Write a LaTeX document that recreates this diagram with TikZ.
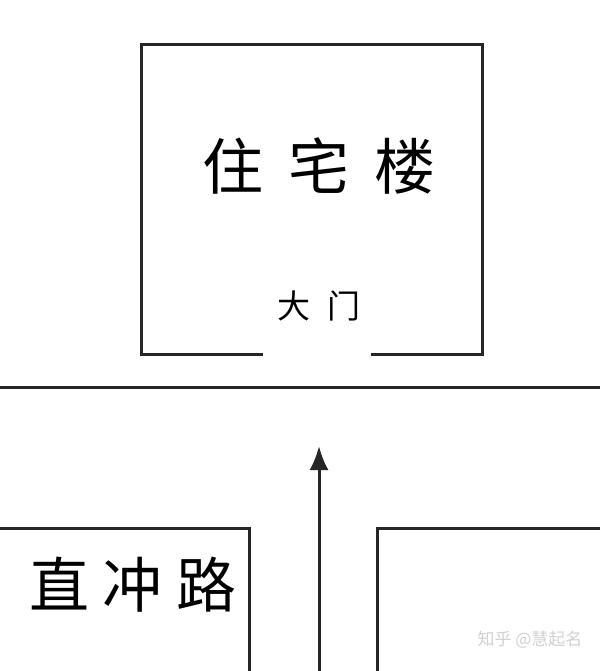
\documentclass[tikz,border=0pt]{standalone}
\usepackage{fontspec}
\newfontfamily\cjk{Noto Sans CJK SC}
\usepackage{tikz}
\usetikzlibrary{arrows.meta}
\usetikzlibrary{positioning}

\begin{document}
\begin{tikzpicture}[x=1pt,y=-1pt,line width=3pt,wall/.style={draw=black!85},
    cjktext/.style={inner sep=0pt,font=\cjk},sigtext/.style={inner sep=0pt,font=\cjk\fontsize{17}{17}\selectfont,text=black!18}]
      \useasboundingbox (0,0) rectangle (600,671);
      % building with its door gap
      \coordinate (dl) at (263,354);
      \coordinate (dr) at (371,354);
      \draw[wall] (dl) -- (141,354) -- (141,45) -- (482,45) -- (482,354) -- (dr);
      \node[cjktext,font=\cjk\fontsize{61}{61}\selectfont] (house) at (319,166) {住\hspace{25pt}宅\hspace{25pt}楼};
      \node[cjktext,font=\cjk\fontsize{33}{33}\selectfont] (door) at (319,306) {大\hspace{17pt}门};
      % road
      \draw[wall] (0,387) -- (600,387);
      \draw[wall] (0,528) -- (249,528) -- (249,671);
      \draw[wall] (600,528) -- (377,528) -- (377,671);
      \node[cjktext,font=\cjk\fontsize{60}{60}\selectfont] (road) at (133,585) {直\hspace{14pt}冲\hspace{14pt}路};
      \coordinate (start) at (319,671);
      \coordinate (tip) at (319,446);
      \draw[wall,-{Latex[length=24pt,width=19pt]}] (start) -- (tip);
      \node[sigtext] (sign) at (530,640) {知乎 @慧起名};
    \end{tikzpicture}
\end{document}
